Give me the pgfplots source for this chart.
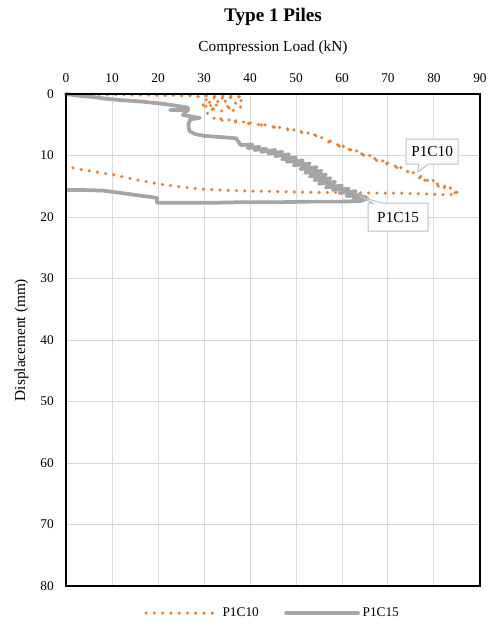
\documentclass[border=0pt]{standalone}
\usepackage{fontspec}
\setmainfont{Liberation Serif}
\usepackage{pgfplots}
\pgfplotsset{compat=1.18}
\usetikzlibrary{shapes.callouts}

\definecolor{xlorange}{HTML}{ED7D31}
\definecolor{xlgray}{HTML}{A5A5A5}
\definecolor{gridgray}{HTML}{D9D9D9}
\definecolor{boxgray}{HTML}{BFBFBF}

\begin{document}
\begin{tikzpicture}
\useasboundingbox (-49.5pt,-31.5pt) rectangle (321pt,439.5pt);
\begin{axis}[
    at={(155.25pt,184.5pt)}, anchor=center,
    width=310.5pt, height=369pt, scale only axis,
    xmin=0, xmax=90, ymin=0, ymax=80,
    y dir=reverse,
    xtick={0,10,...,90}, ytick={0,10,...,80},
    xticklabel pos=upper,
    major tick length=0pt,
    grid=major,
    grid style={gridgray, line width=0.75pt},
    axis line style={black, line width=0.8pt},
    clip=false,
    /pgf/number format/assume math mode=true,
    tick label style={font=\fontsize{10}{12}\selectfont},
    xticklabel style={anchor=base, yshift=9pt},
    yticklabel style={anchor=east, inner sep=0pt, xshift=-9pt},
    title={\textbf{Type 1 Piles}},
    title style={at={(axis description cs:0.5,1)}, anchor=base, yshift=48.4pt, font=\fontsize{14.4}{16}\selectfont},
    xlabel={Compression Load (kN)},
    xlabel style={at={(axis description cs:0.5,1)}, anchor=base, yshift=32.25pt, font=\fontsize{11.5}{13}\selectfont},
    ylabel={Displacement (mm)},
    ylabel style={at={(axis description cs:-0.1075,0.5)}, anchor=center, font=\fontsize{11.5}{13}\selectfont},
    legend columns=2,
    legend style={at={(axis description cs:0.5,-0.055)}, anchor=center, draw=none,
        font=\fontsize{10}{12}\selectfont,
        /tikz/every even column/.append style={column sep=17pt}},
    legend image code/.code={\draw[#1] (0pt,0pt) -- (54pt,0pt);},
]

% P1C10, load-displacement readings
\addplot[xlorange, line width=2.6pt, line cap=round, dash pattern=on 0pt off 6.2pt] coordinates {
(0,0.05)(3,0.1)(6,0.1)(9,0.15)(12,0.1)(15,0.2)(18,0.15)(21,0.25)(24,0.2)(26,0.35)
(27.5,0.25)(29,0.45)(30.5,0.3)(33,0.4)(35,0.3)(37,0.5)(38.5,0.4)(36,0.6)(33.5,0.7)
(31.5,0.6)(30,1.1)(29.5,1.7)(31,2.1)(32.5,1.4)(34,0.9)(35.5,1.5)(35,2.3)(36.5,2.7)
(38,2.1)(38.5,1.3)(37.5,0.8)(36.5,1.9)(34,2.8)(32,2.4)(30,1.9)(31.5,1.2)(33,2.0)
(30.5,3.0)(32,3.9)(34,4.3)(33,4.0)(35,4.1)(37,4.6)(36,4.3)(38,4.4)(40,4.9)(39,4.6)
(41,4.8)(43,5.2)(42,4.9)(44,5.1)(46,5.6)(45,5.3)(47,5.5)(49,6.0)(48,5.6)(50,5.9)
(52,6.5)(51,6.1)(53,6.4)(55,7.0)(54,6.6)(56,7.2)(57.5,8.0)(57,7.5)(58.5,8.0)
(60,8.7)(59,8.3)(61,8.6)(62.5,9.4)(61.5,9.0)(63.5,9.3)(65,10.1)(64,9.7)(66,10.0)
(67.5,10.8)(66.5,10.4)(68.5,10.7)(70,11.5)(69,11.0)(71,11.4)(72.5,12.2)(71.5,11.8)
(73.5,12.1)(75,13.0)(74,12.5)(76,12.9)(77,13.8)(76.5,13.3)(78,13.5)(79,14.4)
(78,14.0)(80,14.1)(81,15.0)(80,14.6)(82,14.7)(83,15.5)(82,15.2)(84,15.3)(85,16.0)
(84,15.7)(85,16.3)(83,16.4)(80,16.3)(76,16.2)(72,16.1)(66,16.1)(60,16.0)(54,16.0)
(48,15.9)(42,15.8)(36,15.7)(30,15.5)(25,15.1)(20,14.6)(15,13.9)(10,13.1)(5,12.5)
(1.3,12.0)
};
\addlegendentry{P1C10}

% P1C15, load-displacement readings
\addplot[xlgray, line width=2.8pt, line join=round, line cap=round] coordinates {
(0,0)(3,0.3)(6,0.5)(9,0.8)(12,1.0)(16,1.2)(20,1.5)(23,1.8)(26.5,2.2)(26.5,2.6)
(22.6,2.6)(26.5,2.6)(25.4,3.4)(29.1,3.9)(27,4.1)(26.6,5.0)(26.8,6.0)(28,6.5)(30,6.8)
(33.5,7.0)(37,7.2)(37.5,7.8)(38,8.3)(40.5,8.2)(39.5,8.8)(42,8.6)(41,9.1)(43.5,8.9)
(42.5,9.4)(45.5,9.1)(44,9.7)(47,9.4)(45.5,10.1)(48.5,9.8)(47,10.6)(50,10.3)
(48,11.0)(51.5,10.8)(49.5,11.6)(53,11.3)(51,12.2)(54.5,11.9)(52,12.8)(55.5,12.5)
(53,13.4)(56.5,13.1)(54,14.0)(57.5,13.7)(55,14.6)(58.5,14.3)(56.5,15.2)(60,14.9)
(58,15.6)(61.5,15.4)(59.5,16.1)(63,15.8)(61,16.6)(64,16.4)(62.5,16.9)(65,16.7)
(65.5,17.0)(64,17.4)(60,17.5)(53,17.5)(46,17.6)(38,17.6)
(31,17.7)(25,17.7)(19.8,17.7)(19.8,16.9)(14,16.3)(8,15.7)(3,15.6)(0.3,15.6)
};
\addlegendentry{P1C15}

\draw[black, line width=1.5pt] (axis description cs:0,0) -- (axis description cs:0,1) -- (axis description cs:1,1);

\node[rectangle callout, draw=boxgray, fill=white, line width=0.75pt,
      minimum width=39pt, minimum height=18.75pt, inner sep=1pt,
      font=\fontsize{11.5}{13}\selectfont,
      callout absolute pointer={(axis cs:76.5,12.7)}] at (axis cs:79.6,9.35) {P1C10};
\node[rectangle callout, draw=boxgray, fill=white, line width=0.75pt,
      minimum width=45pt, minimum height=21pt, inner sep=1pt,
      font=\fontsize{11.5}{13}\selectfont,
      callout absolute pointer={(axis cs:63.9,16.7)}] at (axis cs:72.2,20.0) {P1C15};
\end{axis}
\end{tikzpicture}
\end{document}
